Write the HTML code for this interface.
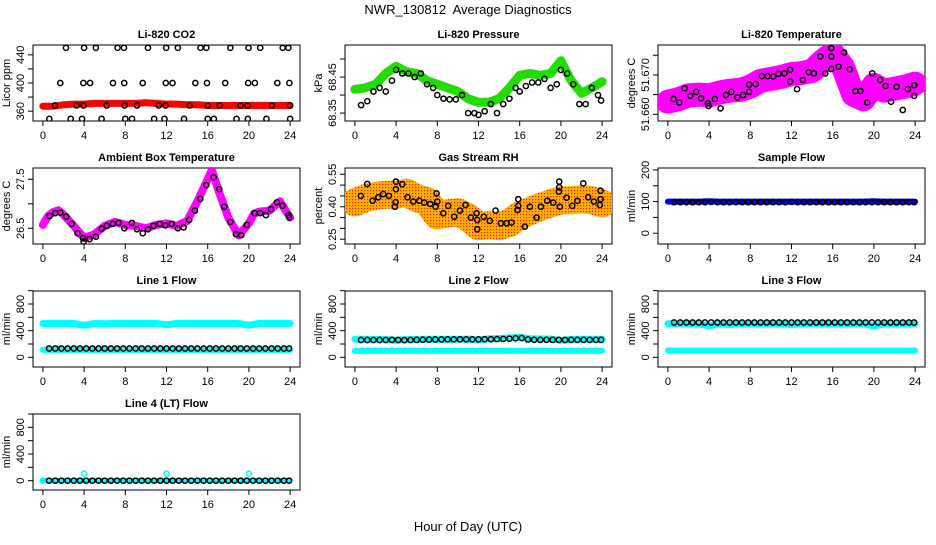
<!DOCTYPE html>
<html><head><meta charset="utf-8"><style>
body{margin:0;background:#fff}
svg text{font-family:"Liberation Sans",sans-serif}
</style></head><body>
<svg id="c" width="936" height="540" viewBox="0 0 936 540" xmlns="http://www.w3.org/2000/svg">
<defs>
<pattern id="rhPat" width="3" height="3" patternUnits="userSpaceOnUse"><rect width="3" height="3" fill="#ffb000"/><rect x="1" y="1" width="1.2" height="1.2" fill="#e82000"/></pattern>
</defs>
<text x="468" y="14" text-anchor="middle" font-size="13">NWR_130812&#160; Average Diagnostics</text>
<text x="468" y="531" text-anchor="middle" font-size="13">Hour of Day (UTC)</text>
</svg>
<script>
const hoursH=[0,1,2,3,4,5,6,7,8,9,10,11,12,13,14,15,16,17,18,19,20,21,22,23,24];
const hoursB=[0.6,1.2,1.8,2.4,3.0,3.6,4.2,4.8,5.4,6.0,6.6,7.2,7.8,8.4,9.0,9.6,10.2,10.8,11.4,12.0,12.6,13.2,13.8,14.4,15.0,15.6,16.2,16.8,17.4,18.0,18.6,19.2,19.8,20.4,21.0,21.6,22.2,22.8,23.4,23.9];
const xTicks=[0,4,8,12,16,20,24];
// Panel 1 CO2
const co2Band=[367,367,369,370,370,371,371,371,371,371,372,371,370,370,369,369,368,368,368,368,368,368,368,368,368];
const co2X=[0.62,2.7,3.8,5.7,8.0,8.65,10.8,11.8,13.7,16,16.6,18.8,19.9,21.7,24,1.17,3.28,3.93,6.2,7.93,9.14,11.25,11.9,14.24,16,17.14,19.2,19.87,22.24,24,1.69,3.93,4.58,6.8,7.9,9.69,11.93,12.58,14.8,15.93,17.7,19.93,20.58,22.76,23.93,2.24,4.0,5.14,7.25,7.87,10.2,11.97,13.1,15.3,15.87,18.2,19.96,21.1,23.28,23.83];
const co2Y=[349,349,349,349,349,349,349,349,349,349,349,349,349,349,349,368,368,368,368,368,368,368,368,368,368,368,368,368,368,368,400,400,400,400,400,400,400,400,400,400,400,400,400,400,400,450,450,450,450,450,450,450,450,450,450,450,450,450,450,450];
// Panel 2 pressure
const presBand=[68.416,68.42,68.43,68.46,68.48,68.465,68.46,68.44,68.43,68.42,68.41,68.39,68.38,68.38,68.39,68.42,68.455,68.46,68.455,68.46,68.495,68.44,68.405,68.42,68.437];
const presX=[0.6,1.2,1.8,2.4,3.0,3.6,4.0,4.6,5.2,5.8,6.4,7.0,7.6,8.0,8.6,9.2,9.8,10.4,11.0,11.6,12.0,12.6,13.2,13.8,14.4,15.0,15.6,16.0,16.6,17.2,17.8,18.4,19.0,19.6,20.0,20.6,21.2,21.8,22.4,23.0,23.6,23.9];
const presY=[68.372,68.383,68.41,68.42,68.41,68.44,68.47,68.46,68.46,68.45,68.46,68.43,68.42,68.40,68.39,68.388,68.388,68.40,68.35,68.35,68.345,68.355,68.375,68.35,68.375,68.39,68.42,68.41,68.425,68.435,68.435,68.445,68.42,68.43,68.47,68.46,68.43,68.375,68.375,68.42,68.40,68.385];
// Panel 3 Li-820 temperature
const tempBand=[51.6632,51.6638,51.6648,51.665,51.6648,51.6655,51.666,51.6662,51.667,51.6685,51.669,51.6695,51.6702,51.6705,51.671,51.6735,51.6755,51.672,51.665,51.6638,51.6675,51.666,51.6665,51.667,51.6678];
const tempX=[0.55,1.1,1.63,2.18,2.74,3.22,3.88,3.94,4.56,5.11,5.64,6.16,6.74,7.3,7.88,7.88,8.53,9.12,9.67,10.23,10.72,11.3,11.86,11.86,12.54,13.1,13.68,14.17,14.79,15.28,15.86,15.86,15.86,16.58,17.1,17.65,18.2,18.7,19.35,19.84,20.6,21.14,21.66,22.2,22.8,23.3,23.9,23.9];
const tempY=[51.6639,51.663,51.6666,51.6647,51.6657,51.6641,51.6628,51.6621,51.6639,51.6615,51.6649,51.6657,51.6643,51.6649,51.6657,51.6675,51.6677,51.6697,51.6697,51.6696,51.6703,51.6704,51.6713,51.6683,51.6664,51.6687,51.6707,51.6704,51.6747,51.6704,51.6715,51.6747,51.6768,51.6721,51.6757,51.6714,51.6659,51.6659,51.663,51.6704,51.6687,51.6672,51.6632,51.667,51.6611,51.6664,51.6647,51.6674];
// Panel 4 ambient box temperature
const ambBandX=[0,0.5,1,1.5,2,3,4,5,6,7,8,9,10,11,12,13,14,15,16,16.4,17,18,19,20,20.5,21,22,23,24];
const ambBandY=[26.57,26.75,26.83,26.87,26.78,26.55,26.3,26.38,26.55,26.63,26.57,26.55,26.5,26.57,26.6,26.55,26.65,27.05,27.5,27.69,27.3,26.72,26.36,26.6,26.8,26.84,26.86,27.05,26.72];
const ambX=[0.65,1.2,1.7,2.27,2.8,3.37,3.9,3.95,4.53,5.15,5.7,6.2,6.8,7.35,7.9,8.64,9.13,9.7,10.2,10.74,11.33,11.88,12.5,13.1,13.66,14.2,14.76,15.28,15.86,16.57,17.12,17.6,18.19,18.74,19.26,19.8,20.55,21.1,21.65,22.14,22.72,23.27,23.85,23.92];
const ambY=[26.75,26.81,26.82,26.74,26.59,26.40,26.30,26.23,26.28,26.33,26.49,26.55,26.59,26.61,26.5,26.61,26.48,26.40,26.48,26.55,26.59,26.56,26.59,26.5,26.52,26.67,26.86,27.1,27.38,27.54,27.3,26.94,26.63,26.38,26.36,26.57,26.81,26.81,26.77,26.89,27.03,26.96,26.77,26.72];
// Panel 5 RH
const rhBand=[0.42,0.44,0.45,0.455,0.455,0.465,0.44,0.425,0.36,0.37,0.375,0.35,0.31,0.315,0.31,0.325,0.36,0.38,0.40,0.415,0.43,0.43,0.435,0.43,0.415];
const rhX=[0.58,1.2,1.72,2.27,2.75,3.3,3.88,3.95,3.98,3.98,4.6,5.11,5.66,6.25,6.73,7.31,7.83,7.93,8.0,8.58,9.06,9.64,10.2,10.74,11.26,11.81,11.88,11.88,12.52,13.1,13.66,14.17,14.72,15.2,15.79,15.86,15.86,16.5,16.99,17.64,18.06,18.67,19.26,19.8,19.84,19.84,19.9,20.55,21.1,21.6,22.17,22.65,23.2,23.78,23.85,23.85];
const rhY=[0.450,0.505,0.428,0.444,0.459,0.45,0.40,0.421,0.516,0.481,0.504,0.444,0.424,0.428,0.419,0.413,0.40,0.462,0.424,0.37,0.404,0.354,0.382,0.408,0.35,0.37,0.339,0.296,0.354,0.335,0.382,0.324,0.324,0.327,0.385,0.435,0.404,0.308,0.40,0.35,0.40,0.428,0.419,0.47,0.49,0.516,0.40,0.442,0.404,0.427,0.508,0.444,0.424,0.408,0.474,0.435];
// Panel 6 sample flow
const sampleBand=[100,100,100,100,101,100,100,100,100,100,100,100,100,100,100,100,100,100,100,100,101,100,100,100,100];
const sampleB=[98,98,98,98,98,98,99,98,98,98,98,98,98,98,98,98,98,98,98,99,98,98,98,98,98,98,98,98,98,98,98,98,98,98,98,98,98,98,98,98];
// Panels 7-10 line flows
const l1Hi=[508,508,508,508,480,508,505,508,508,508,508,508,490,508,508,508,508,508,508,508,480,508,508,508,508];
const l1Lo=[112,112,112,112,112,112,112,112,112,112,112,112,112,112,112,112,112,112,112,112,112,112,112,112,112];
const l1B=[132,132,132,132,132,132,132,132,132,132,132,132,132,132,132,132,132,132,132,132,132,132,132,132,132,132,132,132,132,132,132,132,132,132,132,132,132,132,132,132];
const l2Hi=[272,270,268,268,255,268,268,270,272,272,272,274,262,278,282,290,300,280,276,274,255,270,270,270,270];
const l2Lo=[97,97,97,97,97,97,97,97,97,97,97,97,97,97,97,100,100,97,97,97,97,97,97,97,97];
const l2B=[260,260,260,260,260,262,260,258,260,262,264,266,268,268,270,270,270,270,270,270,272,272,274,276,280,286,290,268,262,262,262,262,262,260,262,262,262,262,262,262];
const l3Hi=[505,505,505,505,470,505,490,505,505,505,505,505,490,505,505,505,505,505,505,505,470,505,505,505,505];
const l3Lo=[102,102,102,102,102,102,102,102,102,102,102,102,102,102,102,102,102,102,102,102,102,102,102,102,102];
const l3B=[522,522,522,522,522,522,522,522,522,522,522,522,522,522,522,522,522,522,522,522,522,522,522,522,522,522,522,522,522,522,522,522,522,522,522,522,522,522,522,522];
const l4Band=[0,0,0,0,0,0,0,0,0,0,0,0,0,0,0,0,0,0,0,0,0,0,0,0,0];
const l4B=[0,0,0,0,0,0,0,0,0,0,0,0,0,0,0,0,0,0,0,0,0,0,0,0,0,0,0,0,0,0,0,0,0,0,0,0,0,0,0,0];
const l4SpikeX=[0,4,12,20];
const l4SpikeY=[0,105,105,105];
const flowTicks=[0,200,400,600,800,1000];
const flowLabels=[0,400,800];

const NS="http://www.w3.org/2000/svg";
const svg=document.getElementById('c');
function mk(tag,attrs,parent){const e=document.createElementNS(NS,tag);for(const k in attrs)e.setAttribute(k,attrs[k]);(parent||svg).appendChild(e);return e;}
function makePanel(name,title,ytitle,left,top,ymin,ymax,yTicks,yLabels,fmt){
  const W=267,H=76;
  const g=mk('g',{});
  
  
  const sx=v=>left+(v+0.96)/25.92*W;
  const sy=v=>top+H-(v-ymin)/(ymax-ymin)*H;
  const box=mk('rect',{x:left,y:top,width:W,height:H,fill:'none',stroke:'#000','stroke-width':1},g);
  
  
  const t=mk('text',{x:left+W/2,y:top-7,'text-anchor':'middle','font-size':11,'font-weight':'bold'},g);
  t.textContent=title;
  
  
  xTicks.forEach(v=>{
    mk('line',{x1:sx(v),x2:sx(v),y1:top+H,y2:top+H+5,stroke:'#000'},g);
    const l=mk('text',{x:sx(v),y:top+H+18,'text-anchor':'middle','font-size':11},g);
    l.textContent=v;
    
    
  });
  yTicks.forEach(v=>{mk('line',{x1:left-5,x2:left,y1:sy(v),y2:sy(v),stroke:'#000'},g);});
  yLabels.forEach(v=>{
    const y=sy(v);
    const l=mk('text',{x:left-9,y:y,'text-anchor':'middle','font-size':11,transform:`rotate(-90 ${left-9} ${y})`},g);
    l.textContent=fmt(v);
    
    
  });
  const yt=mk('text',{x:left-23,y:top+H/2,'text-anchor':'middle','font-size':11,transform:`rotate(-90 ${left-23} ${top+H/2})`},g);
  yt.textContent=ytitle;
  
  
  const clip='clip-'+name;
  const cp=mk('clipPath',{id:clip},g);mk('rect',{x:left,y:top,width:W,height:H},cp);
  const data=mk('g',{'clip-path':`url(#${clip})`},g);
  return {g:data,sx,sy};
}
function band(p,xs,ys,color,w,name){
  const pts=xs.map((x,i)=>p.sx(x).toFixed(1)+','+p.sy(ys[i]).toFixed(1)).join(' ');
  const e=mk('polyline',{points:pts,fill:'none',stroke:color,'stroke-width':w,'stroke-linecap':'round','stroke-linejoin':'round'},p.g);
  
  
}
function pts(p,xs,ys,color,name){
  xs.forEach((x,i)=>{
    const c=mk('circle',{cx:p.sx(x),cy:p.sy(ys[i]),r:2.6,fill:'none',stroke:color,'stroke-width':1.5},p.g);
    
    
  });
}
const f0=v=>String(v), f2=v=>v.toFixed(2), f3=v=>v.toFixed(3), f1=v=>v.toFixed(1);
const C1=33,C2=345,C3=658,R1=45,R2=168,R3=291,R4=414;

let p=makePanel('co2-panel','Li-820 CO2','Licor ppm',C1,R1,346,454,[360,380,400,420,440],[360,400,440],f0);
band(p,hoursH,co2Band,'#ff0000',7,'co2-series');pts(p,co2X,co2Y,'#000','co2-average-point');

p=makePanel('pressure-panel','Li-820 Pressure','kPa',C2,R1,68.328,68.539,[68.35,68.40,68.45,68.50],[68.35,68.45],f2);
band(p,hoursH,presBand,'#22dd00',9,'pressure-series');pts(p,presX,presY,'#000','pressure-average-point');

p=makePanel('li820-temp-panel','Li-820 Temperature','degrees C',C3,R1,51.6583,51.6776,[51.660,51.665,51.670,51.675],[51.660,51.670],f3);
band(p,hoursH,tempBand,'#ff00ff',24,'li820-temp-series');pts(p,tempX,tempY,'#000','li820-temp-average-point');

p=makePanel('ambient-temp-panel','Ambient Box Temperature','degrees C',C1,R2,26.18,27.73,[26.5,27.0,27.5],[26.5,27.5],f1);
band(p,ambBandX,ambBandY,'#ff00ff',8,'ambient-temp-series');pts(p,ambX,ambY,'#000','ambient-temp-average-point');

p=makePanel('rh-panel','Gas Stream RH','percent',C2,R2,0.228,0.579,[0.25,0.30,0.35,0.40,0.45,0.50,0.55],[0.25,0.40,0.55],f2);
band(p,hoursH,rhBand,'url(#rhPat)',28,'rh-series');pts(p,rhX,rhY,'#000','rh-average-point');

p=makePanel('sample-flow-panel','Sample Flow','ml/min',C3,R2,-34,206,[0,50,100,150,200],[0,100,200],f0);
band(p,hoursH,sampleBand,'#0000ff',6,'sample-flow-series');pts(p,hoursB,sampleB,'#000','sample-flow-average-point');

p=makePanel('line1-flow-panel','Line 1 Flow','ml/min',C1,R3,-145,995,flowTicks,flowLabels,f0);
band(p,hoursH,l1Hi,'#00ffff',7,'line1-upper-series');band(p,hoursH,l1Lo,'#00ffff',6,'line1-lower-series');pts(p,hoursB,l1B,'#000','line1-average-point');

p=makePanel('line2-flow-panel','Line 2 Flow','ml/min',C2,R3,-145,995,flowTicks,flowLabels,f0);
band(p,hoursH,l2Hi,'#00ffff',7,'line2-upper-series');band(p,hoursH,l2Lo,'#00ffff',6,'line2-lower-series');pts(p,hoursB,l2B,'#000','line2-average-point');

p=makePanel('line3-flow-panel','Line 3 Flow','ml/min',C3,R3,-145,995,flowTicks,flowLabels,f0);
band(p,hoursH,l3Hi,'#00ffff',7,'line3-upper-series');band(p,hoursH,l3Lo,'#00ffff',6,'line3-lower-series');pts(p,hoursB,l3B,'#000','line3-average-point');

p=makePanel('line4-flow-panel','Line 4 (LT) Flow','ml/min',C1,R4,-140,1000,flowTicks,flowLabels,f0);
band(p,hoursH,l4Band,'#00ffff',5,'line4-series');pts(p,l4SpikeX,l4SpikeY,'#00ffff','line4-spike-point');pts(p,hoursB,l4B,'#000','line4-average-point');
</script>
</body></html>
